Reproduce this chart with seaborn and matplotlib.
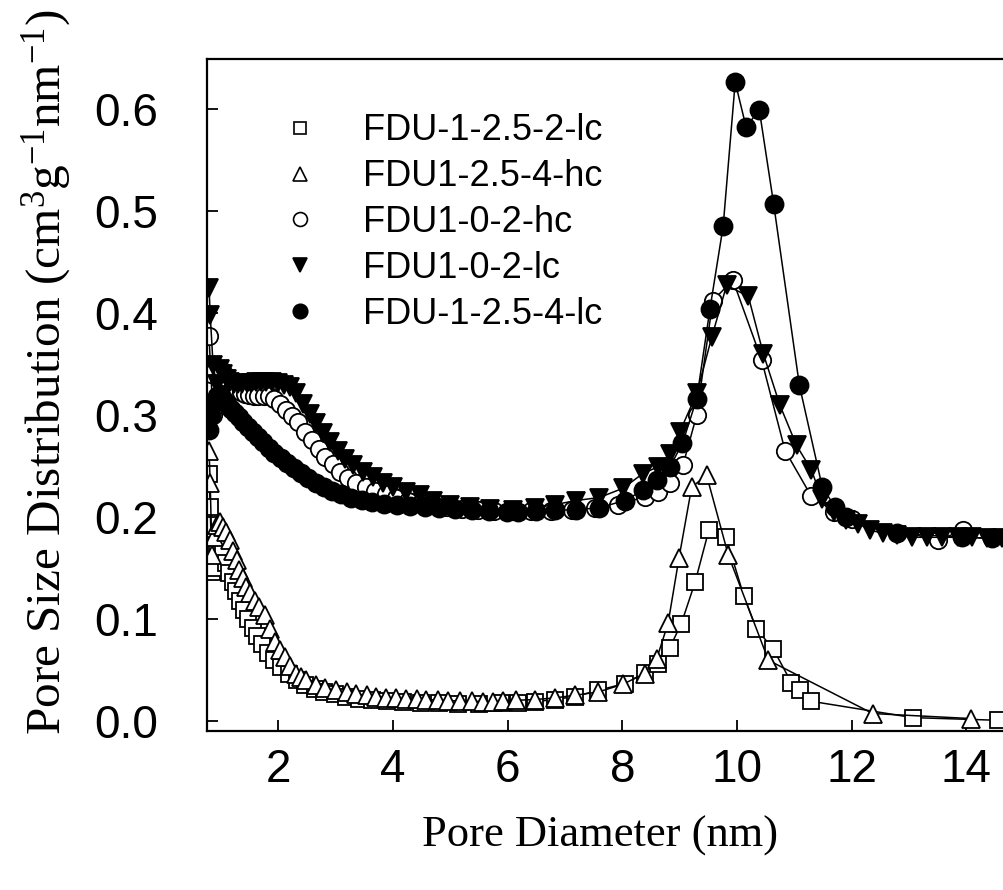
import matplotlib
matplotlib.use('Agg')
import matplotlib.pyplot as plt
from matplotlib.lines import Line2D
import seaborn as sns

# FDU-1-2.5-2-lc (open squares)
sq_x = [0.79, 0.81, 0.84, 0.88, 0.93, 0.98, 1.03, 1.08, 1.14, 1.20, 1.26, 1.33, 1.40, 1.47, 1.55,
        1.63, 1.72, 1.82, 1.93, 2.05, 2.18, 2.32, 2.47, 2.63, 2.80, 2.98, 3.18, 3.40, 3.64, 3.90,
        4.18, 4.48, 4.80, 5.14, 5.50, 5.88, 6.18, 6.47, 6.82, 7.17, 7.58, 8.04, 8.39, 8.62, 8.83,
        9.03, 9.27, 9.51, 9.81, 10.12, 10.34, 10.63, 10.95, 11.10, 11.30, 13.07, 14.56]
sq_y = [0.242, 0.210, 0.146, 0.150, 0.172, 0.175, 0.165, 0.155, 0.145, 0.136, 0.127, 0.118, 0.109, 0.100, 0.091,
        0.083, 0.075, 0.067, 0.060, 0.053, 0.046, 0.040, 0.035, 0.031, 0.028, 0.026, 0.024, 0.022, 0.021, 0.020,
        0.019, 0.018, 0.0175, 0.017, 0.017, 0.0175, 0.018, 0.019, 0.021, 0.024, 0.030, 0.0367, 0.047, 0.056, 0.072,
        0.0955, 0.136, 0.187, 0.180, 0.1225, 0.090, 0.071, 0.0376, 0.0308, 0.0193, 0.0033, 0.0007]

# FDU1-2.5-4-hc (open triangles)
tri_x = [0.79, 0.81, 0.84, 0.88, 0.93, 0.98, 1.03, 1.09, 1.15, 1.21, 1.27, 1.32, 1.38, 1.44, 1.50,
         1.59, 1.67, 1.76, 1.85, 1.94, 2.02, 2.11, 2.21, 2.31, 2.40, 2.49, 2.66, 2.81, 3.01, 3.19,
         3.36, 3.54, 3.71, 3.88, 4.06, 4.23, 4.41, 4.58, 4.79, 4.96, 5.16, 5.37, 5.57, 5.75, 5.92,
         6.15, 6.47, 6.82, 7.17, 7.58, 8.01, 8.39, 8.60, 8.80, 8.99, 9.21, 9.47, 9.85, 10.55, 12.37, 14.08]
tri_y = [0.265, 0.233, 0.163, 0.180, 0.192, 0.195, 0.190, 0.185, 0.177, 0.167, 0.1575, 0.148, 0.140, 0.131, 0.125,
         0.118, 0.112, 0.104, 0.090, 0.0775, 0.070, 0.0627, 0.054, 0.0465, 0.043, 0.040, 0.035, 0.032, 0.030, 0.028,
         0.0265, 0.025, 0.024, 0.023, 0.0225, 0.022, 0.0215, 0.021, 0.0205, 0.020, 0.0196, 0.0192, 0.019, 0.019, 0.0195,
         0.0203, 0.021, 0.0226, 0.0252, 0.0284, 0.036, 0.0465, 0.061, 0.096, 0.160, 0.229, 0.241, 0.1625, 0.0595, 0.0073, 0.0024]

# FDU1-0-2-hc (open circles)
oc_x = [0.79, 0.82, 0.86, 0.92, 0.97, 1.02, 1.08, 1.14, 1.20, 1.27, 1.34, 1.41, 1.49, 1.57, 1.65,
        1.74, 1.83, 1.93, 2.03, 2.13, 2.23, 2.34, 2.46, 2.58, 2.70, 2.82, 2.95, 3.07, 3.21, 3.36,
        3.52, 3.69, 3.87, 4.06, 4.26, 4.48, 4.71, 4.95, 5.21, 5.48, 5.77, 6.08, 6.41, 6.76, 7.13,
        7.52, 7.93, 8.39, 8.62, 8.84, 9.06, 9.30, 9.58, 9.93, 10.43, 10.84, 11.30, 11.70, 12.00, 13.50, 13.95]
oc_y = [0.377, 0.340, 0.300, 0.310, 0.335, 0.343, 0.338, 0.332, 0.328, 0.325, 0.322, 0.320, 0.319, 0.318, 0.318,
        0.318, 0.318, 0.316, 0.311, 0.305, 0.299, 0.293, 0.283, 0.275, 0.267, 0.259, 0.252, 0.244, 0.238, 0.233,
        0.229, 0.225, 0.222, 0.219, 0.216, 0.214, 0.212, 0.210, 0.208, 0.207, 0.206, 0.2055, 0.2055, 0.206, 0.207,
        0.209, 0.212, 0.2196, 0.2245, 0.233, 0.251, 0.300, 0.412, 0.432, 0.354, 0.265, 0.220, 0.205, 0.198, 0.177, 0.187]

# FDU1-0-2-lc (filled triangles)
ft_x = [0.79, 0.81, 0.86, 0.92, 0.98, 1.04, 1.10, 1.16, 1.23, 1.30, 1.37, 1.45, 1.53, 1.61, 1.70,
        1.79, 1.89, 1.99, 2.10, 2.20, 2.31, 2.43, 2.55, 2.66, 2.78, 2.90, 3.04, 3.16, 3.30, 3.48,
        3.65, 3.83, 4.00, 4.23, 4.47, 4.69, 4.99, 5.34, 5.69, 6.09, 6.47, 6.82, 7.19, 7.60, 8.01,
        8.36, 8.62, 8.83, 9.00, 9.30, 9.56, 9.82, 10.20, 10.46, 10.75, 11.04, 11.30, 11.48, 11.70, 11.90,
        12.12, 12.32, 12.55, 12.80, 13.05, 13.31, 13.58, 13.86, 14.11, 14.36, 14.63]
ft_y = [0.424, 0.398, 0.349, 0.330, 0.345, 0.340, 0.335, 0.332, 0.330, 0.330, 0.330, 0.331, 0.331, 0.332, 0.332,
        0.332, 0.332, 0.331, 0.329, 0.327, 0.321, 0.311, 0.301, 0.292, 0.282, 0.2735, 0.265, 0.257, 0.251, 0.244,
        0.239, 0.233, 0.229, 0.224, 0.221, 0.216, 0.212, 0.2095, 0.2075, 0.2066, 0.209, 0.212, 0.216, 0.219, 0.228,
        0.2425, 0.249, 0.262, 0.283, 0.321, 0.376, 0.427, 0.416, 0.360, 0.3095, 0.270, 0.246, 0.218, 0.205, 0.197,
        0.1935, 0.187, 0.184, 0.182, 0.180, 0.180, 0.180, 0.180, 0.180, 0.179, 0.179]

# FDU-1-2.5-4-lc (filled circles)
fc_x = [0.79, 0.83, 0.88, 0.93, 0.98, 1.04, 1.10, 1.17, 1.24, 1.31, 1.39, 1.47, 1.55, 1.64, 1.73,
        1.83, 1.93, 2.04, 2.15, 2.27, 2.39, 2.52, 2.65, 2.79, 2.94, 3.10, 3.27, 3.45, 3.64, 3.85,
        4.07, 4.30, 4.55, 4.81, 5.08, 5.37, 5.67, 5.98, 6.18, 6.50, 6.82, 7.19, 7.60, 8.04, 8.36,
        8.60, 8.83, 9.05, 9.30, 9.53, 9.76, 9.97, 10.16, 10.39, 10.64, 11.09, 11.49, 11.71, 11.91, 12.79,
        13.92, 14.45]
fc_y = [0.285, 0.300, 0.312, 0.318, 0.320, 0.316, 0.311, 0.306, 0.302, 0.298, 0.293, 0.288, 0.283, 0.278, 0.273,
        0.268, 0.263, 0.258, 0.253, 0.248, 0.243, 0.238, 0.233, 0.229, 0.225, 0.222, 0.219, 0.217, 0.215, 0.213,
        0.212, 0.211, 0.210, 0.209, 0.208, 0.207, 0.206, 0.205, 0.205, 0.2056, 0.2066, 0.207, 0.209, 0.216, 0.226,
        0.236, 0.249, 0.272, 0.316, 0.404, 0.485, 0.626, 0.582, 0.599, 0.507, 0.329, 0.229, 0.210, 0.200, 0.184,
        0.180, 0.179]

labels = ['FDU-1-2.5-2-lc', 'FDU1-2.5-4-hc', 'FDU1-0-2-hc', 'FDU1-0-2-lc', 'FDU-1-2.5-4-lc']

sns.set_style('ticks')
plt.rcParams['font.family'] = ['Liberation Sans', 'DejaVu Sans']
plt.rcParams['mathtext.default'] = 'regular'
plt.rcParams['text.color'] = 'black'
plt.rcParams['xtick.color'] = 'black'
plt.rcParams['ytick.color'] = 'black'

fig = plt.figure(figsize=(10.04, 8.90), dpi=100)
ax = fig.add_axes([207 / 1004, 1 - 731 / 890, 1 - 207 / 1004, (731 - 59) / 890])

series = [
    (sq_x, sq_y, 's', 'white', 11),
    (tri_x, tri_y, '^', 'white', 12.5),
    (oc_x, oc_y, 'o', 'white', 12.5),
    (ft_x, ft_y, 'v', 'black', 12.5),
    (fc_x, fc_y, 'o', 'black', 13),
]

handles = []
for (x, y, m, fc, ms), lab in zip(series, labels):
    sns.lineplot(x=x, y=y, ax=ax, color='black', linewidth=1.1, marker=m, markersize=ms,
                 markerfacecolor=fc, mec='black', mew=1.3, estimator=None, sort=False, legend=False)
    handles.append(Line2D([], [], linestyle='none', marker=m, markersize=ms * 0.8,
                          markerfacecolor=fc, markeredgecolor='black', markeredgewidth=1.2))

ax.set_xlim(0.754, 14.66)
ax.set_ylim(-0.0098, 0.6487)
ax.set_xticks([2, 4, 6, 8, 10, 12, 14])
ax.set_yticks([0.0, 0.1, 0.2, 0.3, 0.4, 0.5, 0.6])
ax.set_yticklabels(['0.0', '0.1', '0.2', '0.3', '0.4', '0.5', '0.6'])
ax.tick_params(direction='in', length=8, width=1.3, labelsize=33, color='black', labelcolor='black')
ax.tick_params(axis='x', pad=12)
ax.tick_params(axis='y', pad=35)
for s in ['left', 'bottom', 'top']:
    ax.spines[s].set_linewidth(1.6)
    ax.spines[s].set_color('black')
ax.spines['right'].set_visible(False)

ax.legend(handles, labels, loc='upper left', bbox_to_anchor=(268 / 1004, 1 - 99 / 890),
          bbox_transform=fig.transFigure, frameon=False, fontsize=26, handlelength=1.0,
          handletextpad=1.22, labelspacing=0.3, borderaxespad=0)

fig.text(600 / 1004, 1 - 836 / 890, 'Pore Diameter (nm)', family='Liberation Serif',
         fontsize=32, ha='center', va='center')
fig.text(47 / 1004, 1 - 372 / 890, r'Pore Size Distribution (cm$^{3}$g$^{-1}$nm$^{-1}$)',
         family='Liberation Serif', fontsize=35.5, rotation=90, ha='center', va='center')

fig.savefig('out.png', dpi=100)
